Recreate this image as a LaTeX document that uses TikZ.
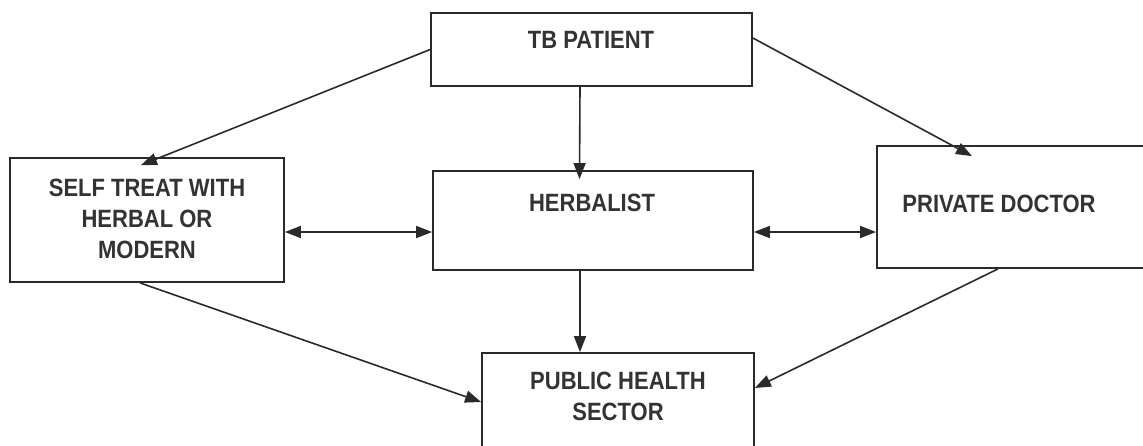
\documentclass[tikz,border=0pt]{standalone}
\usepackage{fontspec}
\setmainfont{Liberation Sans}[FakeStretch=0.88]
\usetikzlibrary{arrows.meta}
\definecolor{ink}{HTML}{2A2A2A}
\definecolor{txt}{HTML}{333333}
\tikzset{
  boxnode/.style={draw=ink, line width=1.8pt, fill=none, inner sep=0pt, rectangle},
  lbl/.style={text=txt, inner sep=0pt, align=center, font=\fontsize{25}{31}\selectfont\bfseries},
  arr/.style={draw=ink, line width=1.6pt, -{Triangle[length=16pt,width=12pt]}},
  darr/.style={draw=ink, line width=1.6pt, {Triangle[length=16pt,width=12pt]}-{Triangle[length=16pt,width=12pt]}}
}
\begin{document}
\begin{tikzpicture}[x=1pt,y=-1pt]
\useasboundingbox (0,0) rectangle (1143,445);
\fill[white] (0,0) rectangle (1143,445);
\clip (0,0) rectangle (1143,445);
% boxes
\node[boxnode, minimum width=321pt, minimum height=73pt] (tb) at (591.5,49.5) {};
\node[boxnode, minimum width=274pt, minimum height=124pt] (self) at (147,220) {};
\node[boxnode, minimum width=320pt, minimum height=99pt] (herb) at (593,220.5) {};
\node[boxnode, minimum width=293pt, minimum height=122pt] (pd) at (1023.5,207) {};
\node[boxnode, minimum width=272pt, minimum height=117pt] (pub) at (618,411.5) {};
% labels
\node[lbl] (tbt) at (591,40) {TB PATIENT};
\node[lbl] (selft) at (147,218.5) {SELF TREAT WITH\\HERBAL OR\\MODERN};
\node[lbl] (herbt) at (592,203) {HERBALIST};
\node[lbl] (pdt) at (999,204) {PRIVATE DOCTOR};
\node[lbl] (pubt) at (618,396) {PUBLIC HEALTH\\SECTOR};
% connectors
\draw[arr] (tb.west) -- ([xshift=-6pt,yshift=-8pt]self.north);
\draw[arr] ([xshift=-11.5pt]tb.south) -- ([xshift=-13.5pt,yshift=-9pt]herb.north);
\draw[arr] ([yshift=11.5pt]tb.east) -- ([xshift=-51.5pt,yshift=-11pt]pd.north);
\draw[darr] ([yshift=-12pt]self.east) -- ([yshift=-11.5pt]herb.west);
\draw[darr] ([yshift=-11.5pt]herb.east) -- ([yshift=-25pt]pd.west);
\draw[arr] ([xshift=-13pt]herb.south) -- ([xshift=-38pt]pub.north);
\draw[arr] ([xshift=-7pt]self.south) -- ([yshift=9.5pt]pub.west);
\draw[arr] ([xshift=-25.5pt]pd.south) -- ([yshift=23.5pt]pub.east);
\end{tikzpicture}
\end{document}
